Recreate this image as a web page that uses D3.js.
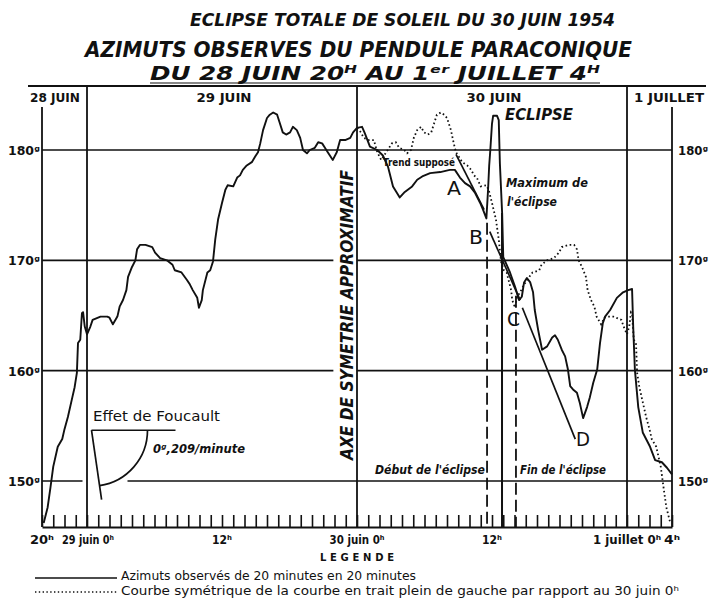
<!DOCTYPE html>
<meta charset="utf-8">
<head>
  <title>Eclipse totale de soleil du 30 juin 1954</title>
  <style>
    body { margin: 0; background: #fff; }
    text { fill: #111; font-family: "DejaVu Sans", sans-serif; }
    .tit { font-weight: bold; font-style: italic; }
    .cond { font-family: "DejaVu Sans Condensed", "DejaVu Sans", sans-serif; }
  </style>
</head>
<body>
<div id="chart"></div>
<script src="https://d3js.org/d3.v7.min.js"></script>
<script>

// hours counted from 30 juin 0h, azimuths in grades (solid curve, one point ~ every 20 min)
var hours = [
  -27.85, -27.5, -27.25, -27.0, -26.6, -26.2, -26.0, -25.7, -25.3, -25.1,
  -24.9, -24.8, -24.6, -24.45, -24.35, -24.2, -24.0, -23.7, -23.5, -22.8,
  -22.2, -22.0, -21.7, -21.3, -21.1, -20.8, -20.5, -20.35, -20.0, -19.7,
  -19.55, -19.3, -18.8, -18.2, -17.95, -17.5, -16.9, -16.4, -16.2, -15.6,
  -15.1, -14.85, -14.6, -14.2, -14.05, -13.8, -13.7, -13.3, -13.05, -12.8,
  -12.6, -12.35, -12.0, -11.7, -11.5, -11.0, -10.65, -10.4, -10.15, -9.8,
  -9.35, -9.05, -8.8, -8.6, -8.35, -8.0, -7.75, -7.45, -7.1, -6.85,
  -6.6, -6.3, -5.95, -5.7, -5.35, -5.05, -4.8, -4.45, -4.2, -3.75,
  -3.45, -3.1, -2.85, -2.6, -2.15, -1.8, -1.5, -1.05, -0.6, -0.35,
  0, 0.45, 0.7, 1.15, 1.8, 2.3, 2.75, 3.2, 3.8, 4.25,
  4.9, 5.35, 5.8, 6.5, 7.4, 8.25, 8.7, 9.15, 9.6, 10.05,
  10.5, 10.95, 11.2, 11.5, 11.65, 11.75, 11.85, 12.0, 12.1, 12.45,
  12.6, 12.7, 12.9, 13.0, 13.6, 14.05, 14.4, 14.65, 14.85, 15.1,
  15.4, 15.65, 15.8, 16.1, 16.45, 16.9, 17.35, 17.6, 17.85, 18.2,
  18.5, 18.75, 18.95, 19.2, 19.55, 19.8, 20.1, 20.45, 20.7, 21.0,
  21.35, 21.6, 21.85, 22.05, 22.5, 23.1, 23.65, 24.1, 24.45, 24.55,
  24.7, 25.0, 25.4, 26.05, 26.5, 27.1, 27.55, 28.0
];
var azimuths = [
  146.2, 147.6, 149.4, 151.3, 153.1, 153.8, 154.7, 155.8, 157.6, 158.5,
  159.8, 162.5, 162.8, 165.2, 165.3, 164.0, 163.3, 164.0, 164.6, 164.9,
  164.9, 164.8, 164.2, 164.9, 165.8, 166.4, 167.3, 168.5, 169.4, 170.0,
  171.0, 171.4, 171.4, 171.2, 170.7, 170.2, 170.0, 169.6, 169.1, 168.9,
  168.2, 167.8, 167.3, 166.6, 165.7, 166.4, 167.3, 168.9, 169.1, 169.9,
  171.9, 173.7, 175.2, 176.4, 176.8, 176.7, 177.5, 177.7, 178.2, 178.6,
  178.9, 179.4, 179.8, 180.6, 181.8, 182.9, 183.2, 183.4, 183.2, 182.4,
  181.6, 181.4, 181.6, 182.1, 181.8, 181.1, 180.0, 179.7, 180.0, 180.2,
  180.7, 180.6, 180.2, 179.8, 179.1, 179.8, 180.9, 180.9, 181.1, 181.6,
  182.0, 182.1, 181.5, 180.3, 180.0, 179.5, 178.5, 176.7, 175.7, 176.2,
  176.7, 177.3, 177.6, 177.9, 178.0, 178.2, 178.2, 177.5, 177.0, 176.7,
  176.1, 175.2, 174.6, 173.8, 176.4, 178.6, 180.0, 182.4, 183.1, 183.1,
  182.7, 178.8, 174.3, 170.3, 168.9, 167.6, 166.4, 166.7, 168.0, 168.4,
  168.0, 167.1, 165.5, 163.7, 161.9, 162.2, 163.0, 163.2, 162.8, 161.9,
  161.3, 160.1, 158.6, 158.3, 158.0, 157.1, 155.7, 156.7, 157.6, 158.9,
  160.1, 162.5, 164.3, 164.9, 165.5, 166.6, 167.1, 167.3, 167.4, 164.0,
  160.1, 156.7, 154.4, 153.1, 151.9, 151.7, 151.2, 150.6
];

var gridDegrees = [150, 160, 170, 180];
var dayLineHours = [-24, 0, 24];
var dayNames = ["28 JUIN", "29 JUIN", "30 JUIN", "1 JUILLET"];
var timeLabelHours = [-28, -24, -12, 0, 12, 24, 28];
var timeLabels = ["20ʰ", "29 juin 0ʰ", "12ʰ", "30 juin 0ʰ", "12ʰ", "1 juillet 0ʰ", "4ʰ"];

// eclipse : debut, maximum, fin (hours after 30 juin 0h)
var eclipseDebut = 11.56, eclipseMax = 12.89, eclipseFin = 14.13;

// straight trend lines [hour, grades]
var trendA = [[8.8, 179.6], [11.3, 174.6]];
var trendBC = [[11.8, 172.6], [14.5, 166.4]];
var trendCD = [[14.7, 165.7], [19.4, 153.8]];

var width = 710, height = 603;
var headTop = 86, axisTop = 107, plotBottom = 527;

var x = d3.scaleLinear().domain([-28, 28]).range([42, 672]);
var y = d3.scaleLinear().domain([150, 180]).range([481, 150]);

var svg = d3.select("#chart").append("svg")
    .attr("width", width)
    .attr("height", height);

var ink = "#111";

// titles
svg.append("text").attr("class", "tit")
    .attr("x", 190).attr("y", 26)
    .attr("textLength", 425).attr("lengthAdjust", "spacingAndGlyphs")
    .style("font-size", "17px")
    .text("ECLIPSE TOTALE  DE SOLEIL DU 30 JUIN 1954");
svg.append("text").attr("class", "tit")
    .attr("x", 85).attr("y", 57)
    .attr("textLength", 547).attr("lengthAdjust", "spacingAndGlyphs")
    .style("font-size", "21px")
    .text("AZIMUTS OBSERVES DU PENDULE PARACONIQUE");
svg.append("text").attr("class", "tit")
    .attr("x", 150).attr("y", 80)
    .attr("textLength", 450).attr("lengthAdjust", "spacingAndGlyphs")
    .style("font-size", "20px")
    .text("DU 28 JUIN 20ᴴ AU 1ᵉʳ JUILLET  4ᴴ");
svg.append("line")
    .attr("x1", 150).attr("x2", 600).attr("y1", 83).attr("y2", 83)
    .style("stroke", ink).style("stroke-width", 1.2);

// header band
svg.append("line")
    .attr("x1", 28).attr("x2", 706).attr("y1", headTop).attr("y2", headTop)
    .style("stroke", ink).style("stroke-width", 2);

var dayPos = [{x: 30, a: "start"}, {x: 224, a: "middle"}, {x: 494, a: "middle"}, {x: 634, a: "start"}];
var dayLen = [50, 55, 55, 70];
svg.selectAll(".day").data(dayNames).enter().append("text")
    .attr("class", "day cond")
    .attr("x", function(d, i) { return dayPos[i].x; })
    .attr("y", 102)
    .attr("text-anchor", function(d, i) { return dayPos[i].a; })
    .attr("textLength", function(d, i) { return dayLen[i]; })
    .attr("lengthAdjust", "spacingAndGlyphs")
    .style("font-size", "13px").style("font-weight", "bold")
    .text(function(d) { return d; });

// horizontal grid, with the gaps left for the lettering
var gridGaps = {180: [[-28, 28]], 170: [[-28, -2.1], [0, 28]], 160: [[-28, -2.1], [0, 28]], 150: [[-28, -24.4], [-20.4, 28]]};
gridDegrees.forEach(function(g) {
  gridGaps[g].forEach(function(s) {
    svg.append("line")
        .attr("x1", x(s[0])).attr("x2", x(s[1]))
        .attr("y1", y(g)).attr("y2", y(g))
        .style("stroke", ink).style("stroke-width", 1.7);
  });
});

// day lines and side axes
svg.selectAll(".dayline").data(dayLineHours).enter().append("line")
    .attr("x1", function(d) { return x(d); }).attr("x2", function(d) { return x(d); })
    .attr("y1", headTop).attr("y2", plotBottom)
    .style("stroke", ink).style("stroke-width", 1.8);
[-28, 28].forEach(function(h) {
  svg.append("line")
      .attr("x1", x(h)).attr("x2", x(h)).attr("y1", axisTop).attr("y2", plotBottom)
      .style("stroke", ink).style("stroke-width", 1.8);
});

// bottom axis, hourly ticks pointing up
var xAxis = d3.axisBottom(x)
    .tickValues(d3.range(-28, 29))
    .tickSize(-12).tickSizeOuter(0)
    .tickFormat("");
var gx = svg.append("g").attr("transform", "translate(0," + plotBottom + ")").call(xAxis);
gx.select(".domain").style("stroke", ink).style("stroke-width", 2);
gx.selectAll(".tick line").style("stroke", ink).style("stroke-width", 1.6);

var tlLen = [24, 52, 20, 55, 20, 68, 16];
var tlShift = [-12, -25, 0, 0, 0, 0, 0];
svg.selectAll(".tl").data(timeLabels).enter().append("text")
    .attr("class", "tl cond")
    .attr("x", function(d, i) { return x(timeLabelHours[i]) + tlShift[i]; })
    .attr("y", 544)
    .attr("text-anchor", function(d, i) { return i < 2 ? "start" : "middle"; })
    .attr("textLength", function(d, i) { return tlLen[i]; })
    .attr("lengthAdjust", "spacingAndGlyphs")
    .style("font-size", "13px").style("font-weight", "bold")
    .text(function(d) { return d; });

// grade labels both sides
gridDegrees.forEach(function(g) {
  svg.append("text").attr("class", "cond")
      .attr("x", 40).attr("y", y(g) + 5).attr("text-anchor", "end")
      .attr("textLength", 32).attr("lengthAdjust", "spacingAndGlyphs")
      .style("font-size", "13px").style("font-weight", "bold")
      .text(g + "ᵍ");
  svg.append("text").attr("class", "cond")
      .attr("x", 678).attr("y", y(g) + 5)
      .attr("textLength", 30).attr("lengthAdjust", "spacingAndGlyphs")
      .style("font-size", "13px").style("font-weight", "bold")
      .text(g + "ᵍ");
});

// eclipse markers
svg.append("line")
    .attr("x1", x(eclipseDebut)).attr("x2", x(eclipseDebut))
    .attr("y1", y(173.4)).attr("y2", plotBottom)
    .style("stroke", ink).style("stroke-width", 1.8).style("stroke-dasharray", "12,5");
svg.append("line")
    .attr("x1", x(eclipseFin)).attr("x2", x(eclipseFin))
    .attr("y1", y(166.8)).attr("y2", plotBottom)
    .style("stroke", ink).style("stroke-width", 1.8).style("stroke-dasharray", "12,5");
svg.append("line")
    .attr("x1", x(eclipseMax)).attr("x2", x(eclipseMax))
    .attr("y1", y(174.3)).attr("y2", plotBottom)
    .style("stroke", ink).style("stroke-width", 2);

// curves
var pts = hours.map(function(h, i) { return [h, azimuths[i]]; });
// dotted curve = left half of the solid curve mirrored about 30 juin 0h
var mirror = pts.filter(function(p) { return p[0] <= 0; })
    .map(function(p) { return [-p[0], p[1]]; }).reverse();

var line = d3.line()
    .x(function(d) { return x(d[0]); })
    .y(function(d) { return y(d[1]); });

svg.append("path").datum(mirror)
    .attr("d", line)
    .style("fill", "none").style("stroke", ink)
    .style("stroke-width", 1.8).style("stroke-dasharray", "1.6,2.6");
svg.append("path").datum(pts)
    .attr("d", line)
    .style("fill", "none").style("stroke", ink)
    .style("stroke-width", 1.9).style("stroke-linejoin", "round");

[trendA, trendBC, trendCD].forEach(function(t) {
  svg.append("path").datum(t).attr("d", line)
      .style("fill", "none").style("stroke", ink).style("stroke-width", 1.7);
});

// annotations
function note(txt, px, py, size, len, cls) {
  var t = svg.append("text").attr("x", px).attr("y", py)
      .style("font-size", size + "px")
      .text(txt);
  if (cls) t.attr("class", cls);
  if (len) t.attr("textLength", len).attr("lengthAdjust", "spacingAndGlyphs");
  return t;
}
note("ECLIPSE", 505, 120, 15, 68, "tit");
note("Trend supposé", 383, 166, 11, 72, "cond").style("font-weight", "bold");
note("A", 447, 195, 20, 14);
note("B", 469, 244, 20, 14);
note("C", 507, 326, 20, 13);
note("D", 576, 446, 20, 14);
note("Maximum  de", 506, 187, 13, 82, "tit");
note("l'éclipse", 507, 206, 13, 50, "tit");
note("Début de  l'éclipse", 375, 474, 13, 110, "tit");
note("Fin de l'éclipse", 520, 474, 13, 86, "tit");
note("Effet  de  Foucault", 93, 421, 14, 127, "cond");
note("0ᵍ,209/minute", 153, 453, 13, 92, "tit");

svg.append("text").attr("class", "tit")
    .attr("transform", "translate(353,315) rotate(-90)")
    .attr("text-anchor", "middle")
    .attr("textLength", 290).attr("lengthAdjust", "spacingAndGlyphs")
    .style("font-size", "18px")
    .text("AXE DE SYMETRIE APPROXIMATIF");

// Foucault sketch : rotation of the plane
var fx = x(-23.6), fy = y(154.6), fr = 56, fa = 81.7 * Math.PI / 180;
svg.append("line").attr("x1", fx).attr("x2", fx + 84).attr("y1", fy).attr("y2", fy)
    .style("stroke", ink).style("stroke-width", 1.7);
svg.append("line").attr("x1", fx).attr("x2", fx + 70 * Math.cos(fa)).attr("y1", fy).attr("y2", fy + 70 * Math.sin(fa))
    .style("stroke", ink).style("stroke-width", 1.7);
svg.append("path")
    .attr("transform", "translate(" + fx + "," + fy + ")")
    .attr("d", d3.arc().innerRadius(fr).outerRadius(fr).startAngle(Math.PI / 2).endAngle(Math.PI / 2 + fa)())
    .style("fill", "none").style("stroke", ink).style("stroke-width", 1.7);

// legend
svg.append("text").attr("x", 357).attr("y", 561).attr("text-anchor", "middle")
    .attr("textLength", 74).attr("lengthAdjust", "spacing")
    .style("font-size", "10px").style("font-weight", "bold")
    .text("LEGENDE");
svg.append("line").attr("x1", 35).attr("x2", 117).attr("y1", 578).attr("y2", 578)
    .style("stroke", ink).style("stroke-width", 1.5);
svg.append("line").attr("x1", 35).attr("x2", 117).attr("y1", 592).attr("y2", 592)
    .style("stroke", ink).style("stroke-width", 1.5).style("stroke-dasharray", "1.4,2.4");
note("Azimuts observés de 20 minutes en 20 minutes", 121, 580, 12, 295, "cond");
note("Courbe symétrique de la courbe en trait plein de gauche par rapport au 30  juin 0ʰ", 121, 595, 12, 558, "cond");

</script>
</body>
</html>
